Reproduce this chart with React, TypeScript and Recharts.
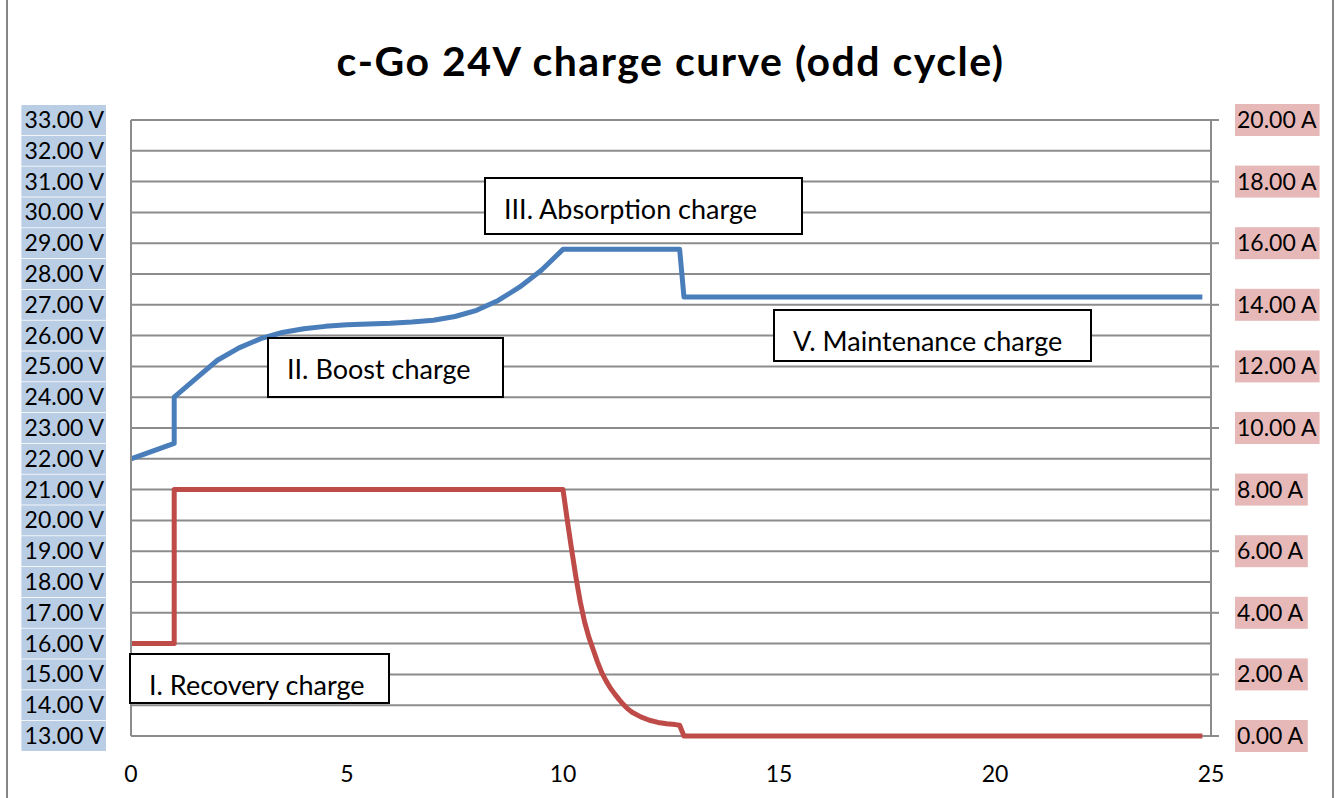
import React from 'react';
import { LineChart, Line, XAxis, YAxis, CartesianGrid } from 'recharts';

// charge time (h) and battery voltage (V)
const voltTime = [0, 1, 1, 1.5, 2, 2.5, 3, 3.5, 4, 4.5, 5, 5.5, 6, 6.5, 7, 7.5, 8, 8.5, 9, 9.5, 10, 12.7, 12.8, 24.8];
const voltValues = [22.0, 22.5, 24.0, 24.6, 25.2, 25.6, 25.9, 26.1, 26.22, 26.3, 26.35, 26.38, 26.4, 26.44, 26.5, 26.62, 26.82, 27.14, 27.58, 28.12, 28.8, 28.8, 27.25, 27.25];

// charge time (h) and charge current (A)
const ampTime = [0, 1, 1, 10, 10.1, 10.2, 10.3, 10.4, 10.5, 10.6, 10.7, 10.8, 10.9, 11.0, 11.1, 11.2, 11.3, 11.4, 11.5, 11.6, 11.8, 12.0, 12.2, 12.4, 12.6, 12.7, 12.8, 24.8];
const ampValues = [3.0, 3.0, 8.0, 8.0, 7.0, 6.05, 5.15, 4.35, 3.7, 3.2, 2.8, 2.4, 2.05, 1.78, 1.55, 1.36, 1.18, 1.02, 0.88, 0.77, 0.62, 0.51, 0.44, 0.4, 0.37, 0.35, 0.0, 0.0];

const xTicks = [0, 5, 10, 15, 20, 25];
const voltTicks = [13, 14, 15, 16, 17, 18, 19, 20, 21, 22, 23, 24, 25, 26, 27, 28, 29, 30, 31, 32, 33];
const ampTicks = [0, 2, 4, 6, 8, 10, 12, 14, 16, 18, 20];

const phases = [
    { label: 'III. Absorption charge', left: 484, top: 177, width: 319, height: 58 },
    { label: 'II. Boost charge', left: 267, top: 337, width: 237, height: 61 },
    { label: 'V. Maintenance charge', left: 773, top: 309, width: 319, height: 53 },
    { label: 'I. Recovery charge', left: 129, top: 653, width: 261, height: 51 },
];

const voltData = voltTime.map((t, i) => ({ t, v: voltValues[i] }));
const ampData = ampTime.map((t, i) => ({ t, a: ampValues[i] }));

const FONT = "Lato, 'Open Sans', sans-serif";

const VoltTick = (props: any) => {
    const { x, y, payload } = props;
    const label = `${payload.value.toFixed(2)} V`;
    const w = label.length * 11.8;
    return (
        <g>
            <rect x={x - w} y={y - 15} width={w + 2} height={30} fill="#b9cde5" />
            <text x={x} y={y} dy={8} textAnchor="end" fontFamily={FONT} fontSize={23} fill="#000">{label}</text>
        </g>
    );
};

const AmpTick = (props: any) => {
    const { x, y, payload } = props;
    const label = `${payload.value.toFixed(2)} A`;
    const w = label.length * 11.8;
    return (
        <g>
            <rect x={x - 2} y={y - 16} width={w + 2} height={32} fill="#e6b9b8" />
            <text x={x} y={y} dy={8} textAnchor="start" fontFamily={FONT} fontSize={23} fill="#000">{label}</text>
        </g>
    );
};

const TimeTick = (props: any) => {
    const { x, y, payload } = props;
    return (
        <text x={x} y={y} dy={46} textAnchor="middle" fontFamily={FONT} fontSize={23} fill="#000">{payload.value}</text>
    );
};

const App: React.FC = () => {
    return (
        <div style={{ position: 'absolute', left: 0, top: 0, width: 1341, height: 798, background: '#fff', overflow: 'hidden' }}>
            <div style={{ position: 'absolute', left: 6, top: -10, width: 1328, height: 830, border: '2px solid #868686', boxSizing: 'border-box' }} />
            <div style={{ position: 'absolute', left: 0, top: 36, width: 1341, textAlign: 'center', fontFamily: FONT, fontWeight: 700, fontSize: 41, letterSpacing: 1.5, lineHeight: '50px' }}>
                c-Go 24V charge curve (odd cycle)
            </div>
            <div style={{ position: 'absolute', left: 0, top: 0 }}>
                <LineChart width={1341} height={798} margin={{ top: 120, right: 20, bottom: 12, left: 21 }}>
                    <CartesianGrid yAxisId="v" horizontal vertical={false} stroke="#8c8c8c" strokeWidth={2} />
                    <XAxis
                        type="number"
                        dataKey="t"
                        domain={[0, 25]}
                        ticks={xTicks}
                        allowDuplicatedCategory={false}
                        axisLine={false}
                        tickLine={false}
                        tickSize={0}
                        tickMargin={0}
                        height={50}
                        tick={<TimeTick />}
                    />
                    <YAxis
                        yAxisId="v"
                        orientation="left"
                        domain={[13, 33]}
                        ticks={voltTicks}
                        interval={0}
                        width={110}
                        tickSize={0}
                        tickMargin={27}
                        axisLine={{ stroke: '#8c8c8c', strokeWidth: 2 }}
                        tickLine={false}
                        tick={<VoltTick />}
                    />
                    <YAxis
                        yAxisId="a"
                        orientation="right"
                        domain={[0, 20]}
                        ticks={ampTicks}
                        interval={0}
                        width={110}
                        tickSize={8}
                        tickMargin={18}
                        axisLine={{ stroke: '#8c8c8c', strokeWidth: 2 }}
                        tickLine={{ stroke: '#8c8c8c', strokeWidth: 2 }}
                        tick={<AmpTick />}
                    />
                    <Line
                        yAxisId="v"
                        data={voltData}
                        dataKey="v"
                        type="linear"
                        stroke="#4a7ebb"
                        strokeWidth={5}
                        strokeLinejoin="round"
                        dot={false}
                        isAnimationActive={false}
                    />
                    <Line
                        yAxisId="a"
                        data={ampData}
                        dataKey="a"
                        type="linear"
                        stroke="#be4b48"
                        strokeWidth={5}
                        strokeLinejoin="round"
                        dot={false}
                        isAnimationActive={false}
                    />
                </LineChart>
            </div>
            {phases.map(p => (
                <div
                    key={p.label}
                    style={{
                        position: 'absolute',
                        left: p.left,
                        top: p.top,
                        width: p.width,
                        height: p.height,
                        border: '2px solid #000',
                        background: '#fff',
                        boxSizing: 'border-box',
                        paddingLeft: 18,
                        paddingTop: 15,
                        lineHeight: '30px',
                        fontFamily: FONT,
                        fontSize: 27,
                        color: '#000',
                        whiteSpace: 'nowrap',
                    }}
                >
                    {p.label}
                </div>
            ))}
        </div>
    );
};

export default App;
